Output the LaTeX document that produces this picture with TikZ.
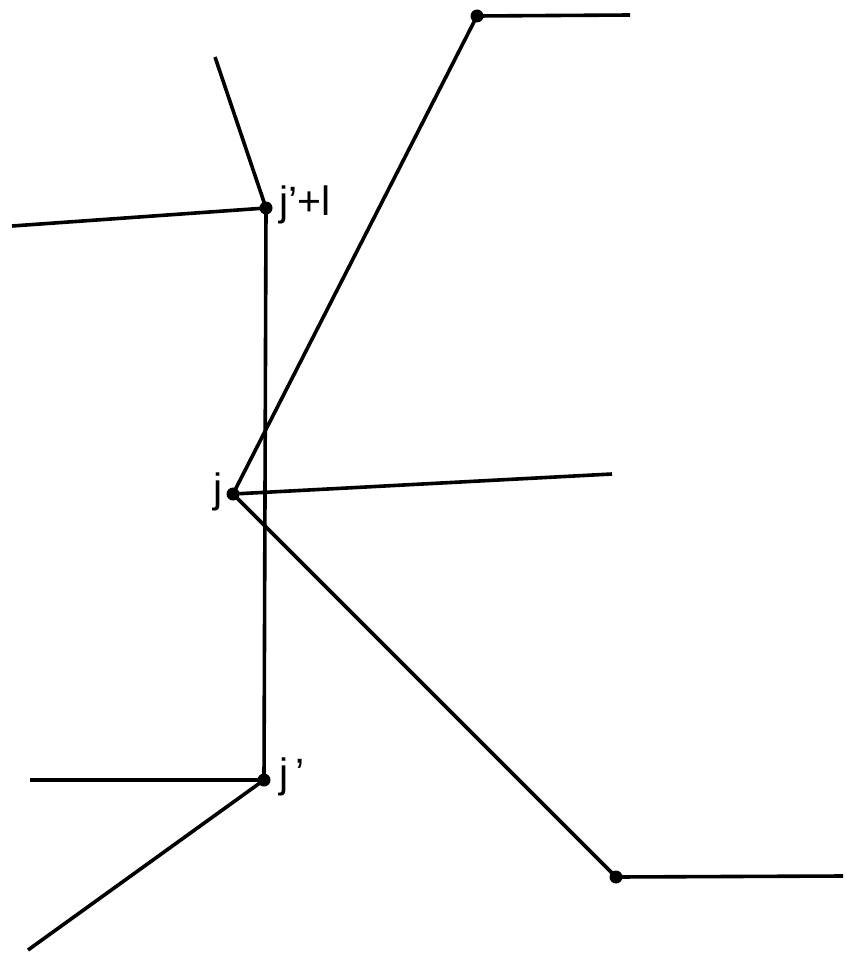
\documentclass[tikz,border=0pt]{standalone}
\usepackage{fontspec}
\setmainfont{Liberation Sans}
\usetikzlibrary{positioning}
\tikzset{
  dot/.style={circle,fill=black,inner sep=0pt,minimum size=13pt},
  lbl/.style={font=\fontsize{41}{44}\selectfont},
  edge/.style={line width=3.6pt}
}

\begin{document}
\begin{tikzpicture}[x=1pt,y=-1pt]
  \useasboundingbox (0,0) rectangle (850,963);
  % marked points
  \node[dot] (top) at (477,16) {};
  \node[dot] (jp1) at (266,208) {};
  \node[dot] (j) at (233,494) {};
  \node[dot] (jp) at (264,780) {};
  \node[dot] (bot) at (616,877) {};
  % labels
  \node[lbl,anchor=west] at (276,205) {j’+l};
  \node[lbl,anchor=east] at (226,492) {j};
  \node[lbl,anchor=west] at (276,777) {j\,’};
  % free ends
  \coordinate (topR) at (630,15);
  \coordinate (jp1U) at (215,57);
  \coordinate (jp1L) at (12,226);
  \coordinate (jR) at (612,474);
  \coordinate (jpL) at (30,780);
  \coordinate (jpD) at (28,950);
  \coordinate (botR) at (843,876);
  % segments
  \foreach \a/\b in {top/topR,jp1U/jp1,jp1L/jp1,jp1/jp,top/j,j/jR,j/bot,jpL/jp,jp/jpD,bot/botR}
    \draw[edge] (\a.center) -- (\b.center);
\end{tikzpicture}
\end{document}
